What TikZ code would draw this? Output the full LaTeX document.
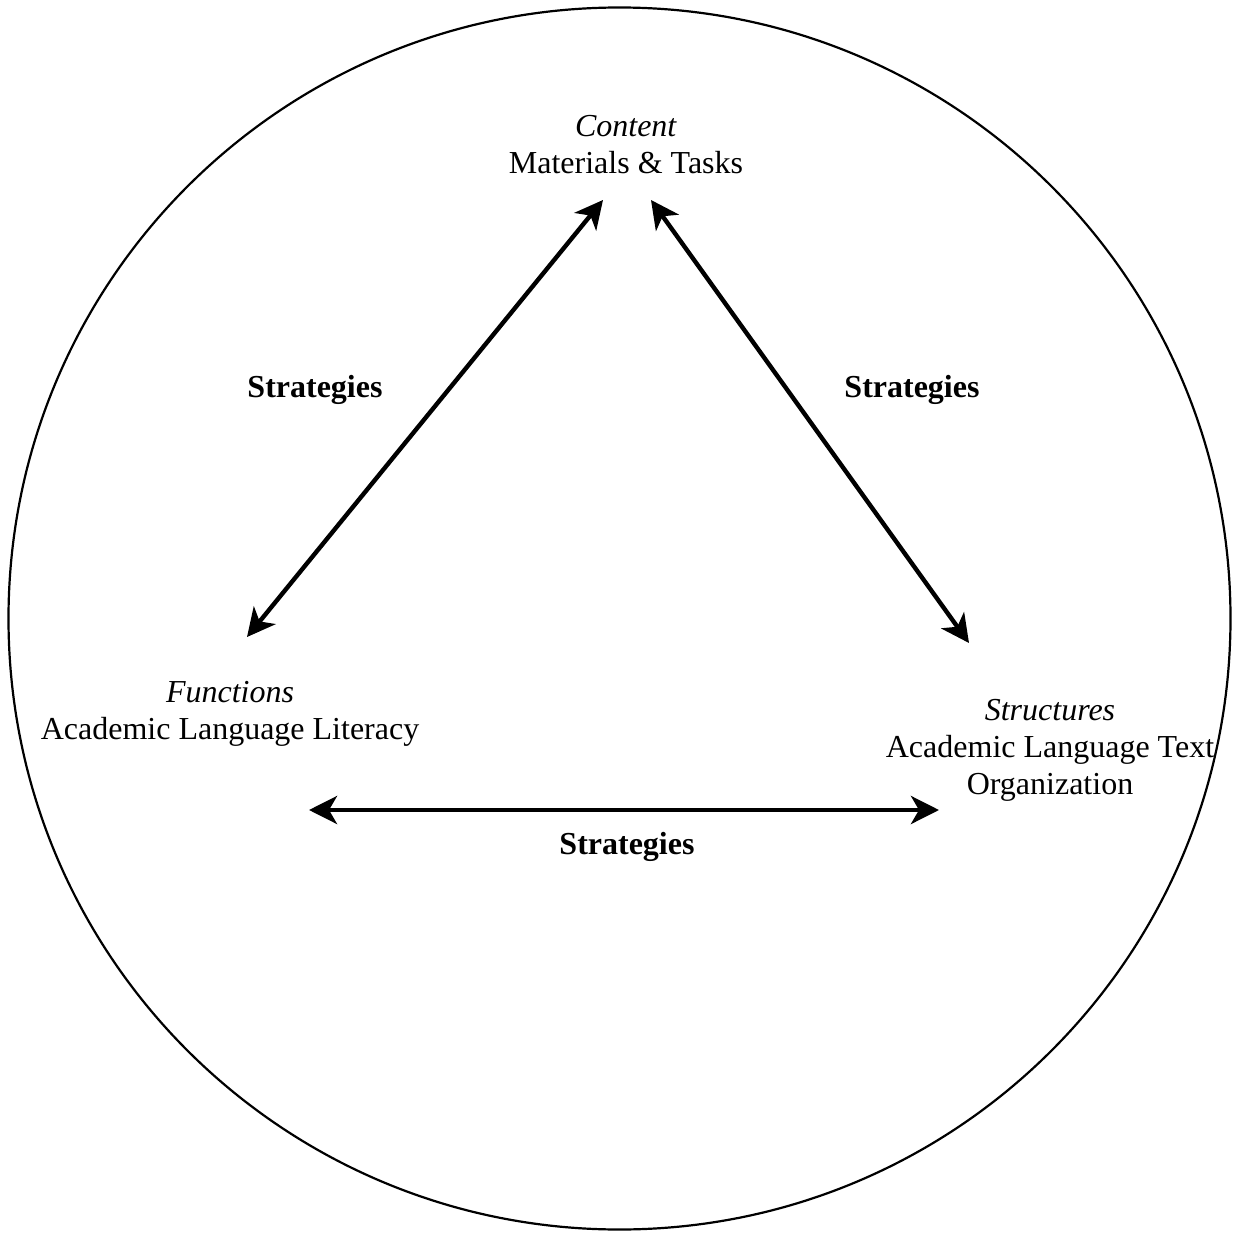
\documentclass[tikz,border=0pt]{standalone}
\usepackage{fontspec}
\setmainfont{Liberation Serif}
\usetikzlibrary{arrows.meta}
\tikzset{
  lbl/.style={align=center, inner sep=0pt, font=\fontsize{32}{37}\selectfont},
  strat/.style={inner sep=0pt, font=\fontsize{32}{37}\selectfont\bfseries},
  dbl/.style={line width=4.4pt, {Stealth[length=28pt,width=28pt,inset=8pt]}-{Stealth[length=28pt,width=28pt,inset=8pt]}}
}
\begin{document}
\begin{tikzpicture}[x=1pt,y=-1pt]
\useasboundingbox (0,0) rectangle (1237,1233);
\draw[line width=2.2pt] (619.5,618.5) circle (611);
\node[lbl] (content) at (626,145) {\textit{Content}\\Materials \& Tasks};
\node[lbl] (functions) at (230,714) {\textit{Functions}\\Academic Language Literacy};
\node[lbl] (structures) at (1050,750) {\textit{Structures}\\Academic Language Text\\Organization};
\node[strat] (s1) at (315,390) {Strategies};
\node[strat] (s2) at (912,390) {Strategies};
\node[strat] (s3) at (627,847) {Strategies};
\coordinate (cL) at (603,200);
\coordinate (cR) at (651,200);
\coordinate (fT) at (247,637);
\coordinate (sT) at (969,643);
\coordinate (fB) at (309,810);
\coordinate (sB) at (939,810);
\draw[dbl] (fT) -- (cL);
\draw[dbl] (cR) -- (sT);
\draw[dbl] (fB) -- (sB);
\end{tikzpicture}
\end{document}
